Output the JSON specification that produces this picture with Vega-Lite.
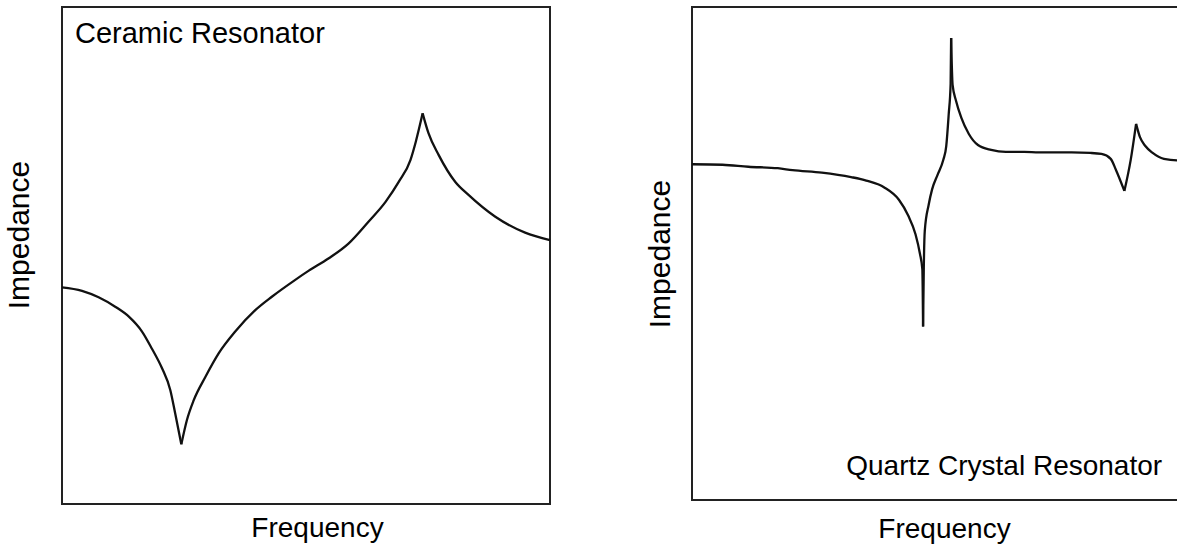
{
  "$schema": "https://vega.github.io/schema/vega-lite/v6.json",
  "padding": {"left": 3, "top": 6, "right": 0, "bottom": 0},
  "background": "white",
  "config": {
    "view": {"stroke": "#222222", "strokeWidth": 2},
    "axis": {"labels": false, "ticks": false, "domain": false, "grid": false, "titleFont": "Liberation Sans", "titleFontSize": 28, "titleFontWeight": "normal", "titleColor": "#000000"},
    "text": {"font": "Liberation Sans"}
  },
  "datasets": {
    "ceramic": [
      {"seg": "a", "f": 0, "z": 43.6}, {"seg": "a", "f": 4.1, "z": 42.9}, {"seg": "a", "f": 7.5, "z": 41.6},
      {"seg": "a", "f": 10.9, "z": 39.7}, {"seg": "a", "f": 13.7, "z": 37.7}, {"seg": "a", "f": 16.4, "z": 34.7},
      {"seg": "a", "f": 18.4, "z": 31.3}, {"seg": "a", "f": 20.5, "z": 27.3}, {"seg": "a", "f": 22.2, "z": 22.9},
      {"seg": "a", "f": 23.2, "z": 18.2}, {"seg": "a", "f": 24.45, "z": 12.0},
      {"seg": "b", "f": 24.45, "z": 12.0}, {"seg": "b", "f": 25.6, "z": 16.9}, {"seg": "b", "f": 27.0, "z": 20.9},
      {"seg": "b", "f": 29.4, "z": 25.6}, {"seg": "b", "f": 32.1, "z": 30.3}, {"seg": "b", "f": 35.5, "z": 34.7},
      {"seg": "b", "f": 39.6, "z": 39.0}, {"seg": "b", "f": 43.0, "z": 41.7}, {"seg": "b", "f": 47.8, "z": 45.1},
      {"seg": "b", "f": 50.5, "z": 46.9}, {"seg": "b", "f": 54.6, "z": 49.4}, {"seg": "b", "f": 58.7, "z": 52.4},
      {"seg": "b", "f": 62.8, "z": 56.8}, {"seg": "b", "f": 66.3, "z": 60.8}, {"seg": "b", "f": 69.0, "z": 64.8},
      {"seg": "b", "f": 71.4, "z": 69.2}, {"seg": "b", "f": 72.5, "z": 72.9}, {"seg": "b", "f": 73.9, "z": 78.6},
      {"seg": "c", "f": 73.9, "z": 78.6}, {"seg": "c", "f": 75.1, "z": 74.6}, {"seg": "c", "f": 77.2, "z": 70.2},
      {"seg": "c", "f": 80.6, "z": 64.8}, {"seg": "c", "f": 83.3, "z": 62.2}, {"seg": "c", "f": 88.8, "z": 57.8},
      {"seg": "c", "f": 94.9, "z": 54.6}, {"seg": "c", "f": 100, "z": 53.1}
    ],
    "quartz": [
      {"seg": "a", "f": 0, "z": 68.1}, {"seg": "a", "f": 6.27, "z": 68.0}, {"seg": "a", "f": 11.56, "z": 67.6},
      {"seg": "a", "f": 17.58, "z": 67.3}, {"seg": "a", "f": 20.6, "z": 66.9}, {"seg": "a", "f": 26.6, "z": 66.4},
      {"seg": "a", "f": 32.6, "z": 65.5}, {"seg": "a", "f": 35.7, "z": 64.8}, {"seg": "a", "f": 39.4, "z": 63.4},
      {"seg": "a", "f": 42.4, "z": 60.9}, {"seg": "a", "f": 44.3, "z": 57.7}, {"seg": "a", "f": 45.8, "z": 53.9},
      {"seg": "a", "f": 46.7, "z": 50.0}, {"seg": "a", "f": 47.2, "z": 46.8}, {"seg": "a", "f": 47.35, "z": 35.2},
      {"seg": "b", "f": 47.35, "z": 35.2}, {"seg": "b", "f": 47.5, "z": 47.2}, {"seg": "b", "f": 47.7, "z": 54.6},
      {"seg": "b", "f": 48.5, "z": 59.9}, {"seg": "b", "f": 49.2, "z": 63.0}, {"seg": "b", "f": 50.3, "z": 65.9},
      {"seg": "b", "f": 51.5, "z": 69.0}, {"seg": "b", "f": 52.1, "z": 71.8}, {"seg": "b", "f": 52.6, "z": 78.2},
      {"seg": "b", "f": 53.0, "z": 84.5}, {"seg": "b", "f": 53.1, "z": 93.7},
      {"seg": "c", "f": 53.1, "z": 93.7}, {"seg": "c", "f": 53.4, "z": 84.2}, {"seg": "c", "f": 54.1, "z": 81.0},
      {"seg": "c", "f": 55.2, "z": 77.5}, {"seg": "c", "f": 56.7, "z": 74.3}, {"seg": "c", "f": 58.6, "z": 72.0},
      {"seg": "c", "f": 61.3, "z": 71.0}, {"seg": "c", "f": 64.3, "z": 70.6}, {"seg": "c", "f": 68.1, "z": 70.6},
      {"seg": "c", "f": 71.1, "z": 70.5}, {"seg": "c", "f": 77.8, "z": 70.5}, {"seg": "c", "f": 81.6, "z": 70.4},
      {"seg": "c", "f": 83.9, "z": 70.2}, {"seg": "c", "f": 85.8, "z": 69.2}, {"seg": "c", "f": 86.9, "z": 66.9},
      {"seg": "c", "f": 88.6, "z": 62.7},
      {"seg": "d", "f": 88.6, "z": 62.7}, {"seg": "d", "f": 89.9, "z": 69.0}, {"seg": "d", "f": 91.0, "z": 76.3},
      {"seg": "e", "f": 91.0, "z": 76.3}, {"seg": "e", "f": 91.8, "z": 73.6}, {"seg": "e", "f": 92.9, "z": 71.8},
      {"seg": "e", "f": 94.4, "z": 70.4}, {"seg": "e", "f": 96.7, "z": 69.2}, {"seg": "e", "f": 99.5, "z": 68.9},
      {"seg": "e", "f": 100, "z": 68.9}
    ],
    "labelLeft": [{"f": 2.66, "z": 92.8, "label": "Ceramic Resonator"}],
    "labelRight": [{"f": 31.6, "z": 5.1, "label": "Quartz Crystal Resonator"}]
  },
  "spacing": 88,
  "hconcat": [
    {
      "width": 488,
      "height": 497,
      "encoding": {
        "x": {"field": "f", "type": "quantitative", "scale": {"domain": [0, 100], "nice": false, "zero": false},
              "axis": {"title": "Frequency", "titleX": 255, "titleY": 32, "titleAlign": "center", "titleBaseline": "alphabetic", "titleAngle": 0}},
        "y": {"field": "z", "type": "quantitative", "scale": {"domain": [0, 100], "nice": false, "zero": false},
              "axis": {"title": "Impedance", "titleX": -34, "titleY": 227.5, "titleAlign": "center", "titleBaseline": "alphabetic", "titleAngle": -90, "titleFontSize": 30}}
      },
      "layer": [
        {"data": {"name": "ceramic"}, "mark": {"type": "line", "color": "#111111", "strokeWidth": 2.3, "interpolate": "monotone"},
         "encoding": {"detail": {"field": "seg", "type": "nominal"}}},
        {"data": {"name": "labelLeft"}, "mark": {"type": "text", "align": "left", "baseline": "alphabetic", "fontSize": 29, "color": "#000000"},
         "encoding": {"text": {"field": "label"}}}
      ]
    },
    {
      "width": 488,
      "height": 493,
      "encoding": {
        "x": {"field": "f", "type": "quantitative", "scale": {"domain": [0, 100], "nice": false, "zero": false},
              "axis": {"title": "Frequency", "titleX": 252, "titleY": 37, "titleAlign": "center", "titleBaseline": "alphabetic", "titleAngle": 0}},
        "y": {"field": "z", "type": "quantitative", "scale": {"domain": [0, 100], "nice": false, "zero": false},
              "axis": {"title": "Impedance", "titleX": -23, "titleY": 246.5, "titleAlign": "center", "titleBaseline": "alphabetic", "titleAngle": -90, "titleFontSize": 30}}
      },
      "layer": [
        {"data": {"name": "quartz"}, "mark": {"type": "line", "color": "#111111", "strokeWidth": 2.3, "interpolate": "monotone"},
         "encoding": {"detail": {"field": "seg", "type": "nominal"}}},
        {"data": {"name": "labelRight"}, "mark": {"type": "text", "align": "left", "baseline": "alphabetic", "fontSize": 28, "color": "#000000"},
         "encoding": {"text": {"field": "label"}}}
      ]
    }
  ]
}
